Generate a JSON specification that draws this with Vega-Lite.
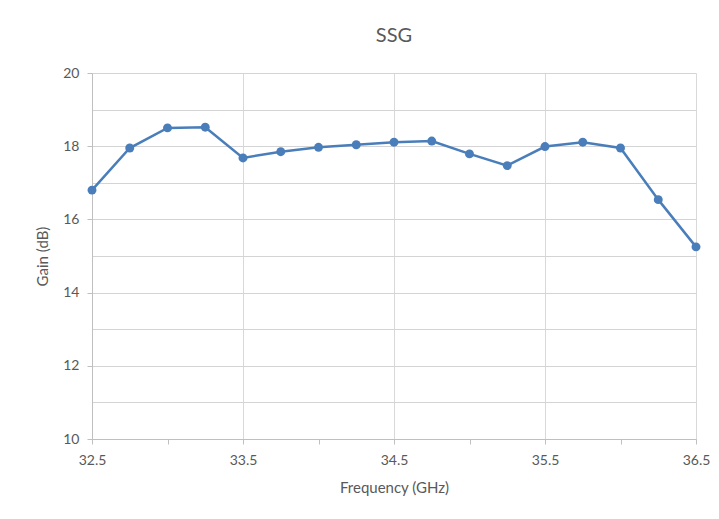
{
  "$schema": "https://vega.github.io/schema/vega-lite/v6.json",
  "autosize": {"type": "none"},
  "width": 604,
  "height": 366,
  "padding": {"left": 92, "top": 73, "right": 23, "bottom": 80},
  "background": "white",
  "title": {"text": "SSG", "fontSize": 20, "font": "Lato", "fontWeight": "normal", "color": "#595959", "offset": 20},
  "config": {"view": {"stroke": null}},
  "data": {"values": [
    {"f": 32.5, "g": 16.80},
    {"f": 32.75, "g": 17.95},
    {"f": 33.0, "g": 18.50},
    {"f": 33.25, "g": 18.52},
    {"f": 33.5, "g": 17.68},
    {"f": 33.75, "g": 17.85},
    {"f": 34.0, "g": 17.97},
    {"f": 34.25, "g": 18.04},
    {"f": 34.5, "g": 18.11},
    {"f": 34.75, "g": 18.14},
    {"f": 35.0, "g": 17.79},
    {"f": 35.25, "g": 17.47},
    {"f": 35.5, "g": 17.99},
    {"f": 35.75, "g": 18.11},
    {"f": 36.0, "g": 17.95},
    {"f": 36.25, "g": 16.54},
    {"f": 36.5, "g": 15.25}
  ]},
  "encoding": {
    "x": {"field": "f", "type": "quantitative",
      "scale": {"domain": [32.5, 36.5], "nice": false, "zero": false},
      "axis": {"title": "Frequency (GHz)", "values": [32.5, 33, 33.5, 34, 34.5, 35, 35.5, 36, 36.5],
        "labelExpr": "datum.value % 1 == 0.5 ? format(datum.value, '.1f') : ''",
        "labelFlush": false, "labelOverlap": false, "labelBound": false,
        "gridOpacity": {"condition": {"test": "datum.value % 1 == 0.5", "value": 1}, "value": 0},
        "gridColor": "#d9d9d9", "domainColor": "#bfbfbf", "tickColor": "#bfbfbf", "tickSize": 5,
        "labelFont": "Lato", "labelFontSize": 14, "labelColor": "#595959", "labelPadding": 9,
        "titleFont": "Lato", "titleFontSize": 15, "titleFontWeight": "normal", "titleColor": "#595959", "titlePadding": 13}},
    "y": {"field": "g", "type": "quantitative",
      "scale": {"domain": [10, 20], "nice": false, "zero": false},
      "axis": {"title": "Gain (dB)", "values": [10, 11, 12, 13, 14, 15, 16, 17, 18, 19, 20],
        "labelExpr": "datum.value % 2 == 0 ? datum.value : ''",
        "tickOpacity": {"condition": {"test": "datum.value % 2 == 0", "value": 1}, "value": 0},
        "gridColor": "#d4d4d4", "domainColor": "#bfbfbf", "tickColor": "#bfbfbf", "tickSize": 5,
        "labelFont": "Lato", "labelFontSize": 14, "labelColor": "#595959", "labelPadding": 8,
        "titleFont": "Lato", "titleFontSize": 15, "titleFontWeight": "normal", "titleColor": "#595959", "titlePadding": 12}}
  },
  "layer": [
    {"mark": {"type": "line", "color": "#4a7ebb", "strokeWidth": 2.5}},
    {"mark": {"type": "point", "filled": true, "color": "#4a7ebb", "opacity": 1, "size": 80}}
  ]
}
